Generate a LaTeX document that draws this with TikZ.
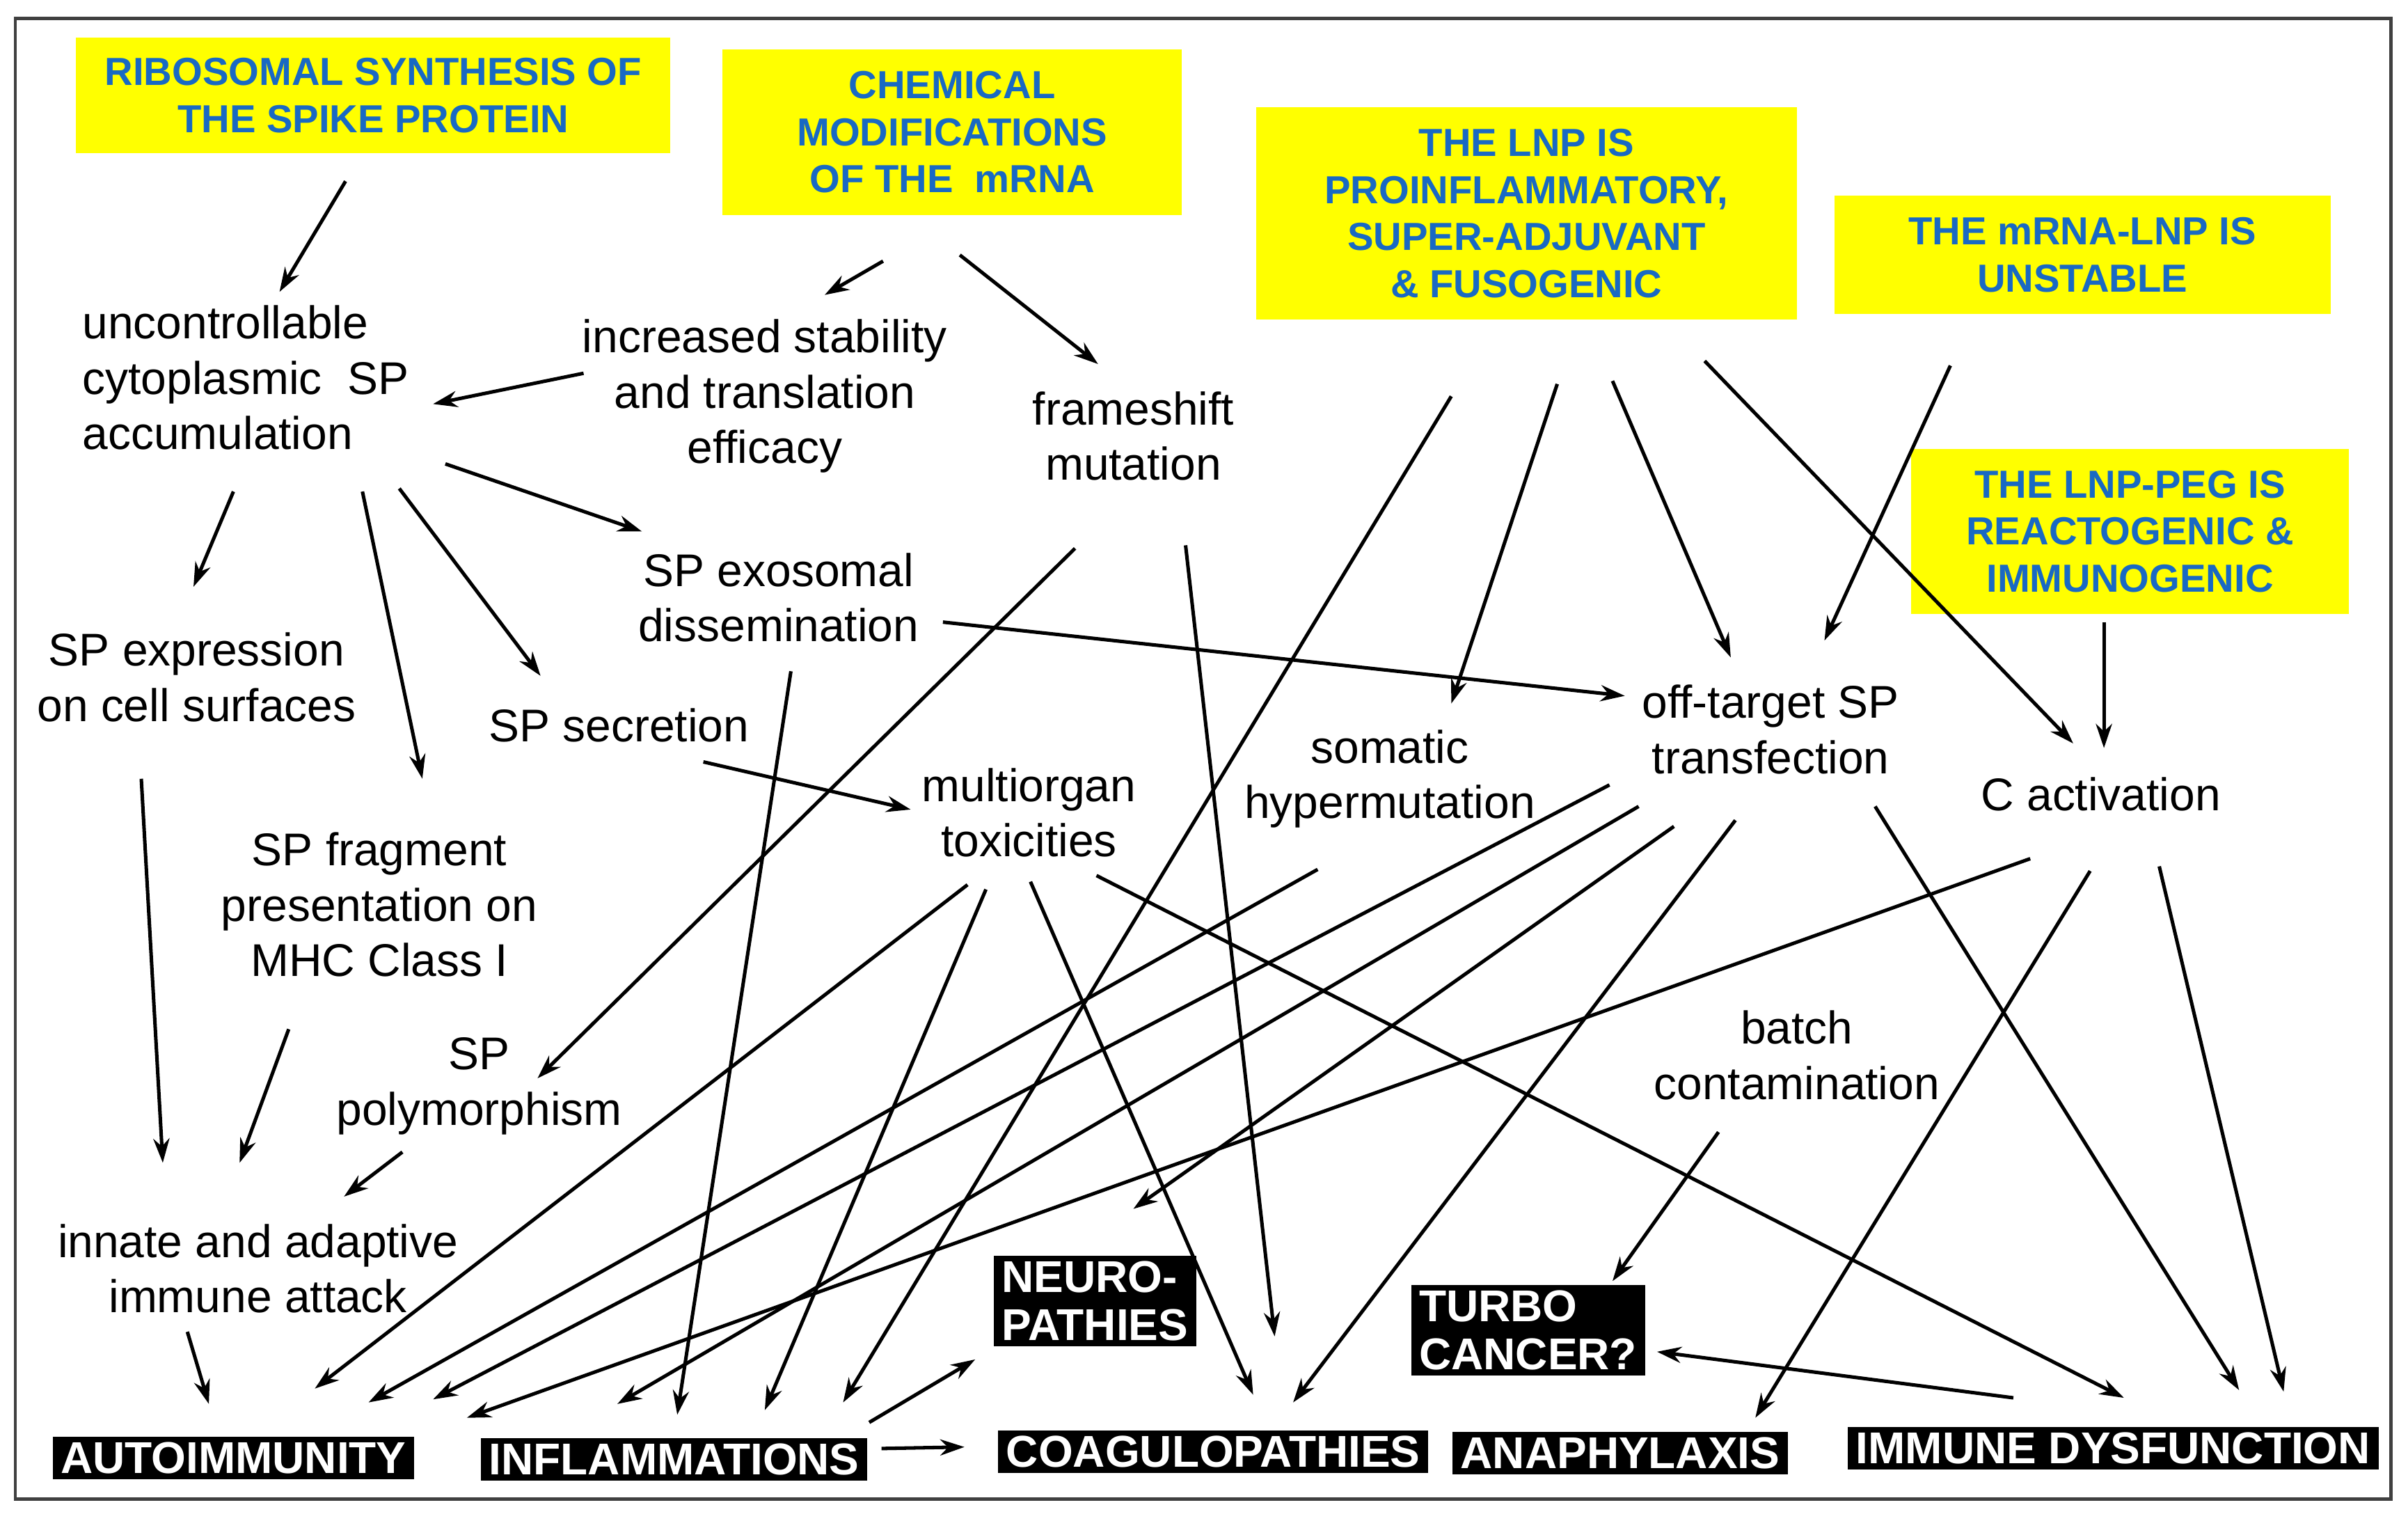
\documentclass[tikz,border=0pt]{standalone}
\usepackage{fontspec}
\setmainfont{Liberation Sans}
\usetikzlibrary{arrows.meta}
\definecolor{causeblue}{RGB}{25,105,195}
\definecolor{causeyellow}{RGB}{255,255,0}
\begin{document}
\begin{tikzpicture}[x=0.02cm,y=-0.02cm,
  cause/.style={fill=causeyellow, text=causeblue, align=center, inner sep=0pt,
    font=\fontsize{14.5}{17.5}\selectfont\bfseries},
  mech/.style={align=center, inner sep=1pt, font=\fontsize{17}{20.5}\selectfont},
  effect/.style={fill=black, text=white, inner xsep=3pt, inner ysep=2pt, align=left,
    font=\fontsize{16.5}{18}\selectfont\bfseries},
  arr/.style={-{Stealth[length=9pt,width=6pt]}, line width=1.3pt}
]
\newcommand{\conn}[4]{\draw[arr] ([shift={(#2)}]#1.center) -- ([shift={(#4)}]#3.center);}

\useasboundingbox (0,0) rectangle (1568,990);
\draw[line width=1.2pt, black!75] (10,12) rectangle (1557,976);

% causes
\node[cause, minimum width=7.74cm, minimum height=1.5cm] (ribo) at (243,62) {RIBOSOMAL SYNTHESIS OF\\THE SPIKE PROTEIN};
\node[cause, minimum width=5.98cm, minimum height=2.16cm] (chem) at (620,86) {CHEMICAL\\MODIFICATIONS\\OF THE\ \ mRNA};
\node[cause, minimum width=7.04cm, minimum height=2.76cm] (lnp) at (994,139) {THE LNP IS\\PROINFLAMMATORY,\\SUPER-ADJUVANT\\\& FUSOGENIC};
\node[cause, minimum width=6.46cm, minimum height=1.54cm] (unst) at (1356,166) {THE mRNA-LNP IS\\UNSTABLE};
\node[cause, minimum width=5.7cm, minimum height=2.14cm] (peg) at (1387,346) {THE LNP-PEG IS\\REACTOGENIC \&\\IMMUNOGENIC};

% mechanisms
\node[mech, align=left] (accum) at (160,246) {uncontrollable\\cytoplasmic\ \ SP\\accumulation};
\node[mech] (stab) at (498,258) {increased stability\\and translation\\efficacy};
\node[mech] (frame) at (738,284) {frameshift\\mutation};
\node[mech] (exo) at (507,389) {SP exosomal\\dissemination};
\node[mech] (expr) at (128,441) {SP expression\\on cell surfaces};
\node[mech] (secr) at (403,472) {SP secretion};
\node[mech] (somat) at (905,507) {somatic\\hypermutation};
\node[mech] (offt) at (1153,475) {off-target SP\\transfection};
\node[mech] (cact) at (1368,517) {C activation};
\node[mech] (multi) at (670,529) {multiorgan\\toxicities};
\node[mech] (frag) at (247,589) {SP fragment\\presentation on\\MHC Class I};
\node[mech] (batch) at (1170,687) {batch\\contamination};
\node[mech] (poly) at (312,707) {SP\\polymorphism};
\node[mech] (innate) at (168,826) {innate and adaptive\\immune attack};

% effects
\node[effect] (autoi) at (152,949) {AUTOIMMUNITY};
\node[effect] (infl) at (439,950) {INFLAMMATIONS};
\node[effect] (neuro) at (713,847) {NEURO-\\PATHIES};
\node[effect] (coag) at (790,945) {COAGULOPATHIES};
\node[effect] (turbo) at (995,866) {TURBO\\CANCER?};
\node[effect] (ana) at (1055,946) {ANAPHYLAXIS};
\node[effect] (immd) at (1376,943) {IMMUNE DYSFUNCTION};

% connectors
\conn{ribo}{-18,56}{accum}{22,-56}
\conn{chem}{-45,84}{stab}{39,-66}
\conn{chem}{5,80}{frame}{-23,-47}
\conn{stab}{-118,-15}{accum}{122,17}
\conn{accum}{-8,74}{expr}{-2,-59}
\conn{accum}{76,74}{frag}{28,-82}
\conn{accum}{100,72}{secr}{-51,-32}
\conn{accum}{130,56}{exo}{-89,-43}
\conn{exo}{107,16}{offt}{-95,-22}
\conn{expr}{-36,66}{innate}{-62,-69}
\conn{frag}{-59,81}{innate}{-12,-69}
\conn{poly}{-50,43}{innate}{56,-47}
\conn{innate}{-46,41}{autoi}{-16,-35}
\conn{frame}{-38,73}{poly}{38,-5}
\conn{frame}{34,71}{coag}{40,-75}
\conn{exo}{8,48}{infl}{2,-29}
\conn{secr}{55,24}{multi}{-77,-2}
\conn{lnp}{-49,119}{infl}{110,-37}
\conn{lnp}{20,111}{somat}{40,-49}
\conn{lnp}{56,109}{offt}{-26,-47}
\conn{lnp}{116,96}{cact}{-18,-33}
\conn{unst}{-86,72}{offt}{35,-58}
\conn{peg}{-17,59}{cact}{2,-30}
\conn{somat}{-47,59}{autoi}{88,-36}
\conn{offt}{-105,36}{autoi}{130,-38}
\conn{offt}{-86,50}{infl}{-37,-36}
\conn{offt}{-63,63}{neuro}{25,-60}
\conn{offt}{-23,59}{coag}{52,-32}
\conn{offt}{68,50}{immd}{82,-38}
\conn{cact}{-46,42}{infl}{-135,-27}
\conn{cact}{-7,50}{ana}{88,-23}
\conn{cact}{38,47}{immd}{111,-37}
\conn{multi}{-40,47}{autoi}{53,-45}
\conn{multi}{-28,50}{infl}{59,-32}
\conn{multi}{1,45}{coag}{26,-37}
\conn{multi}{44,41}{immd}{7,-33}
\conn{batch}{-51,50}{turbo}{55,-32}
\conn{immd}{-65,-33}{turbo}{84,14}
\conn{infl}{127,-24}{neuro}{-78,38}
\conn{infl}{135,-7}{coag}{-162,-3}
\end{tikzpicture}
\end{document}
